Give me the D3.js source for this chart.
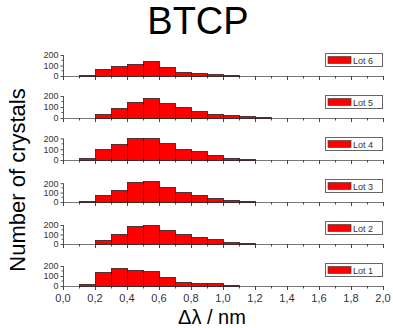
<!DOCTYPE html>
<html>
<head>
<meta charset="utf-8">
<script src="https://cdn.jsdelivr.net/npm/d3@7"></script>
<style>
  body { margin: 0; background: #fff; }
  svg { display: block; font-family: "Liberation Sans", Arial, sans-serif; }
</style>
</head>
<body>
<svg id="chart" width="393" height="328"></svg>
<script>
// bins of 0.1 nm, counts (bins after 1.3 are empty)
var binStart = [0.0, 0.1, 0.2, 0.3, 0.4, 0.5, 0.6, 0.7, 0.8, 0.9, 1.0, 1.1, 1.2];
var binWidth = 0.1;

var lots = ["Lot 6", "Lot 5", "Lot 4", "Lot 3", "Lot 2", "Lot 1"];
var lot6 = [0, 10, 70, 95, 114, 140, 83, 35, 26, 16, 10, 0, 0];
var lot5 = [0, 0, 36, 91, 150, 185, 133, 97, 64, 36, 24, 18, 9];
var lot4 = [0, 15, 101, 145, 200, 200, 157, 101, 83, 46, 15, 5, 3];
var lot3 = [0, 11, 75, 129, 211, 225, 161, 104, 75, 43, 18, 11, 4];
var lot2 = [0, 0, 46, 102, 189, 204, 151, 102, 78, 49, 25, 7, 3];
var lot1 = [0, 23, 143, 177, 163, 147, 90, 43, 28, 27, 13, 0, 0];
var counts = [lot6, lot5, lot4, lot3, lot2, lot1];

// each layer has its own y range in the original plot
var yTop = [286, 273, 278, 319, 316, 300];

var xTicks = [0.0, 0.2, 0.4, 0.6, 0.8, 1.0, 1.2, 1.4, 1.6, 1.8, 2.0];
var yTicks = [0, 100, 200];

var svg = d3.select("#chart");

var x = d3.scaleLinear().domain([0, 2]).range([63, 383]);
var firstBase = 76, panelGap = 42, panelH = 30;

lots.forEach(function(name, i) {
  var base = firstBase + i * panelGap;
  var y = d3.scaleLinear().domain([0, yTop[i]]).range([base, base - panelH]);
  var g = svg.append("g");

  // x axis line with ticks pointing down (major every 0.2, minor every 0.1)
  g.append("line")
    .attr("x1", x(0)).attr("x2", x(2))
    .attr("y1", base + 0.5).attr("y2", base + 0.5)
    .attr("stroke", "#777");
  g.selectAll("line.xt")
    .data(d3.range(0, 21))
    .enter().append("line")
    .attr("class", "xt")
    .attr("x1", function(k) { return Math.round(x(k / 10)) + 0.5; })
    .attr("x2", function(k) { return Math.round(x(k / 10)) + 0.5; })
    .attr("y1", base)
    .attr("y2", function(k) { return base + (k % 2 === 0 ? 4 : 2.5); })
    .attr("stroke", "#444");

  // bars
  var data = binStart.map(function(b, j) { return { x0: b, v: counts[i][j] }; })
    .filter(function(d) { return d.v > 0; });
  g.selectAll("rect")
    .data(data)
    .enter()
    .append("rect")
    .attr("x", function(d) { return Math.round(x(d.x0)) + 0.5; })
    .attr("y", function(d) { return Math.round(y(d.v)) + 0.5; })
    .attr("width", function(d) { return Math.round(x(d.x0 + binWidth)) - Math.round(x(d.x0)); })
    .attr("height", function(d) { return Math.max(0, base - Math.round(y(d.v))); })
    .attr("fill", "#ff0000")
    .attr("stroke", "#222")
    .attr("stroke-width", 0.8);

  // y axis
  var ya = d3.axisLeft(y)
    .tickValues(yTicks)
    .tickSize(3)
    .tickSizeOuter(0)
    .tickPadding(2);
  var yg = g.append("g")
    .attr("transform", "translate(" + (x(0) + 0.5) + ",0)")
    .call(ya);
  yg.select(".domain").attr("stroke", "#555")
    .attr("d", "M0," + base + "V" + y(200));
  yg.selectAll(".tick line").attr("stroke", "#555");
  yg.selectAll(".tick text").attr("font-size", 9).attr("fill", "#333")
    .attr("font-family", "\"Liberation Sans\", Arial, sans-serif");
  yg.selectAll("line.minor")
    .data([50, 150])
    .enter().append("line")
    .attr("x1", -2).attr("x2", 0)
    .attr("y1", function(d) { return y(d); })
    .attr("y2", function(d) { return y(d); })
    .attr("stroke", "#555");

  // legend
  var lg = g.append("g").attr("transform", "translate(325," + (base - 23) + ")");
  lg.append("rect")
    .attr("x", 0.5).attr("y", 0.5).attr("width", 57).attr("height", 13)
    .attr("fill", "#fff").attr("stroke", "#666");
  lg.append("rect")
    .attr("x", 3).attr("y", 3.5).attr("width", 23).attr("height", 7)
    .attr("fill", "#ff0000").attr("stroke", "#333").attr("stroke-width", 0.6);
  lg.append("text")
    .attr("x", 28).attr("y", 10.5)
    .attr("font-size", 9).attr("fill", "#333")
    .text(name);

  // tick labels only on the bottom layer
  if (i === lots.length - 1) {
    g.selectAll("text.xl")
      .data(xTicks)
      .enter().append("text")
      .attr("class", "xl")
      .attr("x", function(d) { return x(d); })
      .attr("y", base + 16)
      .attr("text-anchor", "middle")
      .attr("font-size", 11)
      .attr("fill", "#333")
      .text(function(d) { return d3.format(".1f")(d).replace(".", ","); });
  }
});

// titles
svg.append("text")
  .attr("x", 198).attr("y", 34)
  .attr("text-anchor", "middle")
  .attr("font-size", 38)
  .text("BTCP");

svg.append("text")
  .attr("transform", "translate(25,180) rotate(-90)")
  .attr("text-anchor", "middle")
  .attr("font-size", 22)
  .text("Number of crystals");

svg.append("text")
  .attr("x", 212).attr("y", 324)
  .attr("text-anchor", "middle")
  .attr("font-size", 20)
  .text("Δλ / nm");
</script>
</body>
</html>
